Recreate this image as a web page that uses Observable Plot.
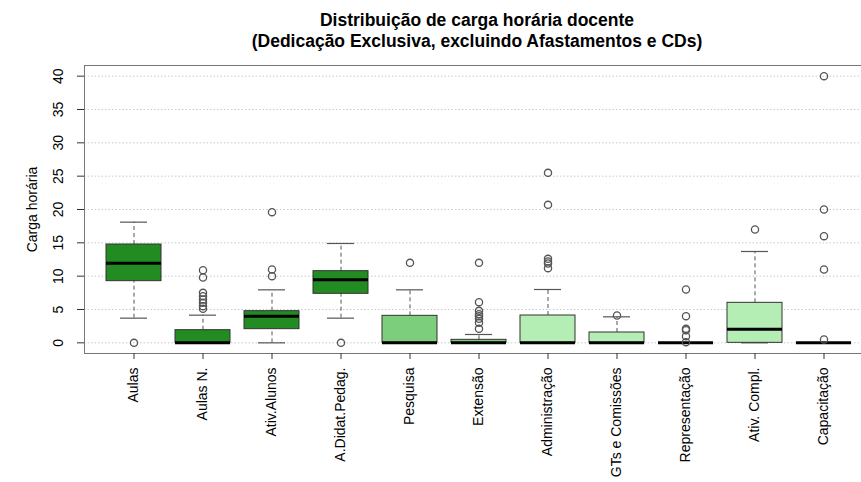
<!DOCTYPE html>
<html><head><meta charset="utf-8">
<script src="https://cdn.jsdelivr.net/npm/d3@7"></script>
<script src="https://cdn.jsdelivr.net/npm/@observablehq/plot@0.6"></script>
<style>
body{margin:0;background:#fff;overflow:hidden;font-family:"Liberation Sans",Arial,sans-serif}
#wrap{position:relative;width:861px;height:482px;overflow:hidden}
#title{position:absolute;left:84px;width:786px;top:10px;text-align:center;font-weight:bold;font-size:17.5px;line-height:21px;color:#000}
</style></head><body>
<div id="wrap"><div id="chart"></div><div id="title">Distribuição de carga horária docente<br>(Dedicação Exclusiva, excluindo Afastamentos e CDs)</div></div>
<script>
const categories = ["Aulas","Aulas N.","Ativ.Alunos","A.Didat.Pedag.","Pesquisa","Extensão","Administração","GTs e Comissões","Representação","Ativ. Compl.","Capacitação"];
const whiskerLow = [3.7, 0, 0, 3.7, 0, 0, 0, 0, 0, 0, 0];
const q1 =        [9.25, 0, 2.05, 7.35, 0, 0, 0, 0, 0, 0, 0];
const median =    [11.95, 0, 4.0, 9.45, 0, 0, 0, 0, 0, 2.05, 0];
const q3 =        [14.75, 1.9, 4.75, 10.75, 4.05, 0.45, 4.1, 1.55, 0, 6.0, 0];
const whiskerHigh=[18.1, 4.15, 7.95, 14.9, 7.95, 1.25, 8.0, 3.9, 0, 13.7, 0];
const outliers = [
  [0],
  [10.9, 9.8, 7.5, 7.0, 6.5, 6.0, 5.5, 5.1],
  [19.6, 11.0, 10.0],
  [0],
  [12],
  [12, 6.1, 4.8, 4.3, 4.0, 3.6, 3.0, 2.1],
  [25.5, 20.7, 12.6, 12.2, 11.9, 11.2],
  [4.1],
  [8, 4, 2.1, 1.9, 1, 0.1],
  [17],
  [40, 20, 16, 11, 0.5]
];
const boxColors = ["#228B22","#228B22","#228B22","#228B22","#7CCD7C","#7CCD7C","#B4EEB4","#B4EEB4","#B4EEB4","#B4EEB4","#B4EEB4"];
const yTicks = [0,5,10,15,20,25,30,35,40];

const stats = categories.map((c,i)=>({cat:c, lo:whiskerLow[i], q1:q1[i], med:median[i], q3:q3[i], hi:whiskerHigh[i]}));
const outRows = categories.flatMap((c,i)=>outliers[i].map(v=>({cat:c, v})));

const chart = Plot.plot({
  width: 861, height: 482,
  marginLeft: 84, marginRight: 0, marginTop: 65, marginBottom: 129,
  style: {fontFamily: "Liberation Sans, Arial, sans-serif", fontSize: "14px", background: "white", color: "#000"},
  x: {domain: categories, range: [99, 859], paddingInner: 0.2, paddingOuter: 0.1},
  y: {domain: [-1.6, 41.6]},
  color: {domain: categories, range: boxColors},
  marks: [
    Plot.gridY(yTicks, {stroke: "#c8c8c8", strokeOpacity: 1, strokeDasharray: "1.5,2"}),
    Plot.frame({stroke: "#777"}),
    Plot.ruleX(stats, {x: "cat", y1: "q3", y2: "hi", stroke: "#555", strokeDasharray: "4,3"}),
    Plot.ruleX(stats, {x: "cat", y1: "lo", y2: "q1", stroke: "#555", strokeDasharray: "4,3"}),
    Plot.tickY(stats, {x: "cat", y: "hi", stroke: "#555", strokeWidth: 1.2, insetLeft: 14, insetRight: 14}),
    Plot.tickY(stats, {x: "cat", y: "lo", stroke: "#555", strokeWidth: 1.2, insetLeft: 14, insetRight: 14}),
    Plot.barY(stats, {x: "cat", y1: "q1", y2: "q3", fill: "cat", stroke: "#333", strokeWidth: 1}),
    Plot.tickY(stats, {x: "cat", y: "med", stroke: "#000", strokeWidth: 3}),
    Plot.dot(outRows, {x: "cat", y: "v", r: 3.6, stroke: "#555", fill: "none", strokeWidth: 1.3}),
    Plot.axisY(yTicks, {tickSize: 7, tickFormat: () => "", label: null, stroke: "#333"}),
    Plot.text(yTicks, {y: d => d, text: d => String(d), frameAnchor: "left", dx: -26, rotate: -90, fontSize: 14, textAnchor: "middle", lineAnchor: "middle", fill: "#000"}),
    Plot.text(["Carga horária"], {text: d => d, frameAnchor: "left", dx: -52, rotate: -90, fontSize: 14, textAnchor: "middle", lineAnchor: "middle", fill: "#000"}),
    Plot.axisX({tickRotate: -90, tickSize: 6, tickPadding: 8, fontSize: 14, label: null, stroke: "#333", fill: "#000"})
  ]
});
document.getElementById("chart").appendChild(chart);
</script>
</body></html>
